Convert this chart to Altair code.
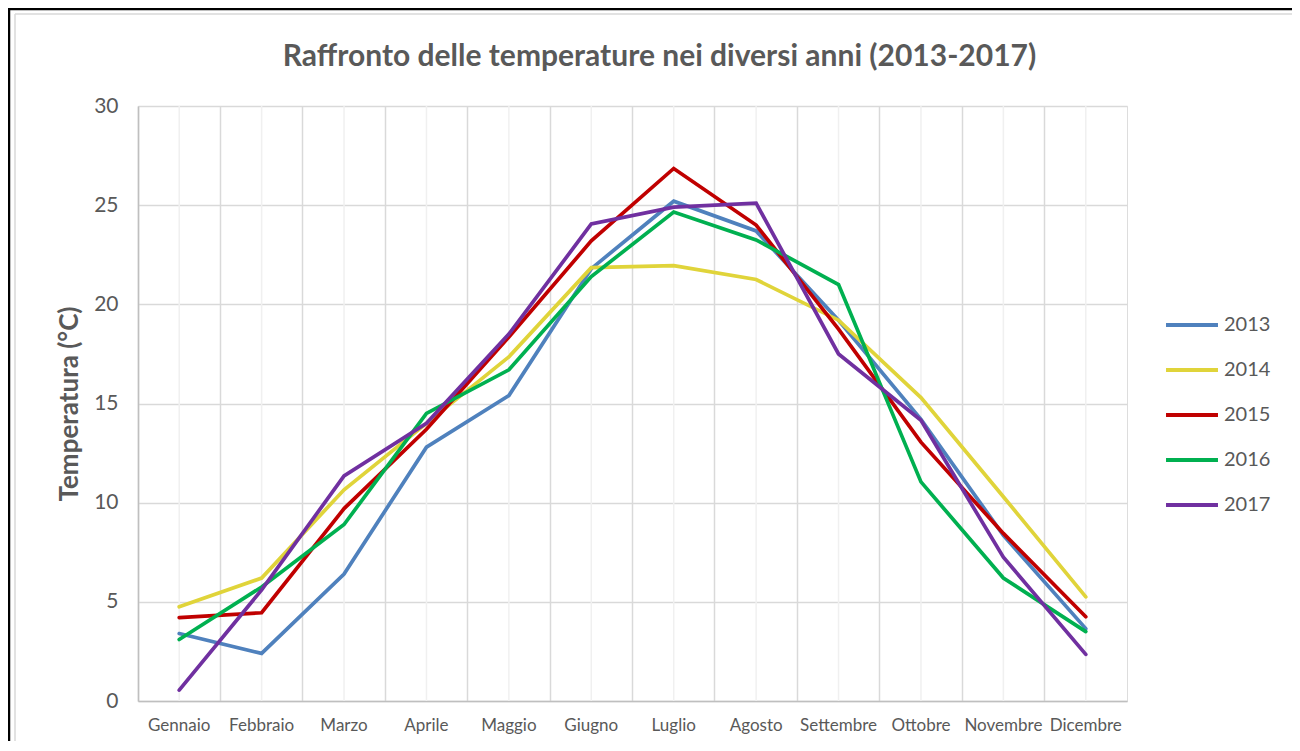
import altair as alt
import pandas as pd

months = ["Gennaio", "Febbraio", "Marzo", "Aprile", "Maggio", "Giugno",
          "Luglio", "Agosto", "Settembre", "Ottobre", "Novembre", "Dicembre"]
years = ["2013", "2014", "2015", "2016", "2017"]
t2013 = [3.4, 2.4, 6.4, 12.8, 15.4, 21.8, 25.2, 23.7, 19.2, 14.2, 8.35, 3.65]
t2014 = [4.75, 6.2, 10.65, 14.0, 17.35, 21.85, 21.95, 21.25, 19.2, 15.3, 10.3, 5.25]
t2015 = [4.2, 4.45, 9.7, 13.7, 18.35, 23.2, 26.85, 24.0, 18.75, 13.05, 8.45, 4.25]
t2016 = [3.1, 5.75, 8.9, 14.5, 16.7, 21.4, 24.65, 23.25, 21.0, 11.05, 6.2, 3.5]
t2017 = [0.55, 5.6, 11.35, 14.0, 18.5, 24.05, 24.9, 25.1, 17.5, 14.15, 7.25, 2.35]
colors = ["#4F81BD", "#E0D43A", "#C00000", "#00B050", "#7030A0"]

series = [t2013, t2014, t2015, t2016, t2017]
rows = []
for y, vals in zip(years, series):
    for m, v in zip(months, vals):
        rows.append({"Mese": m, "Anno": y, "Temperatura": v})
df = pd.DataFrame(rows)
mdf = pd.DataFrame({"Mese": months})

FONT = "Lato"
GREY = "#595959"

xscale = alt.Scale(domain=months, paddingInner=0, paddingOuter=0)
xaxis = alt.Axis(title=None, labelAngle=0, labelFont=FONT, labelFontSize=17,
                 labelColor=GREY, labelPadding=16, ticks=False, grid=True,
                 gridColor="#D9D9D9", gridWidth=1.5, bandPosition=0,
                 domainColor="#BFBFBF", domainWidth=1.5)

# light gridlines at category centres
centre = alt.Chart(mdf).mark_rule(color="#F0F0F0", strokeWidth=1.5).encode(
    x=alt.X("Mese:N", scale=xscale, sort=months, axis=xaxis)
)

lines = alt.Chart(df).mark_line(strokeWidth=3.7, strokeCap="round", strokeJoin="miter").encode(
    x=alt.X("Mese:N", scale=xscale, sort=months, axis=xaxis),
    y=alt.Y("Temperatura:Q", scale=alt.Scale(domain=[0, 30], nice=False),
            axis=alt.Axis(title="Temperatura (°C)", values=[0, 5, 10, 15, 20, 25, 30],
                          titleFont=FONT, titleFontSize=26, titleFontWeight="bold",
                          titleColor=GREY, titlePadding=11, labelFont=FONT,
                          labelFontSize=21, labelColor=GREY, labelPadding=20,
                          ticks=False, gridColor="#D9D9D9", gridWidth=1.5,
                          domainColor="#BFBFBF", domainWidth=1.5)),
    color=alt.Color("Anno:N", scale=alt.Scale(domain=years, range=colors),
                    legend=alt.Legend(title=None, orient="none", legendX=1026, legendY=191,
                                      symbolType="stroke", symbolSize=2700,
                                      symbolStrokeWidth=4, labelFont=FONT,
                                      labelFontSize=20, labelColor=GREY,
                                      rowPadding=7, padding=0, labelOffset=4)),
)

one = pd.DataFrame({"a": [0]})
frame_top = alt.Chart(one).mark_rule(color="black", strokeWidth=2.5).encode(
    x=alt.value(-130), x2=alt.value(1154), y=alt.value(-97))
frame_left = alt.Chart(one).mark_rule(color="black", strokeWidth=2.5).encode(
    x=alt.value(-129), y=alt.value(-97), y2=alt.value(640))
inner_top = alt.Chart(one).mark_rule(color="#D9D9D9", strokeWidth=1.5).encode(
    x=alt.value(-123), x2=alt.value(1154), y=alt.value(-92))
inner_left = alt.Chart(one).mark_rule(color="#D9D9D9", strokeWidth=1.5).encode(
    x=alt.value(-123), y=alt.value(-92), y2=alt.value(640))

chart = alt.layer(centre, lines, frame_top, frame_left, inner_top, inner_left).properties(
    width=989, height=595,
    title=alt.Title("Raffronto delle temperature nei diversi anni (2013-2017)",
                    font=FONT, fontSize=30, fontWeight="bold", color=GREY,
                    anchor="middle", frame="group", dx=27, offset=-64),
    autosize=alt.AutoSizeParams(type="none"),
    padding={"left": 130, "top": 98, "right": 165, "bottom": 40},
).configure_view(stroke="#D9D9D9", strokeWidth=1.5).configure(background="white")

chart.save("out.html", embed_options={"renderer": "svg", "actions": False})
